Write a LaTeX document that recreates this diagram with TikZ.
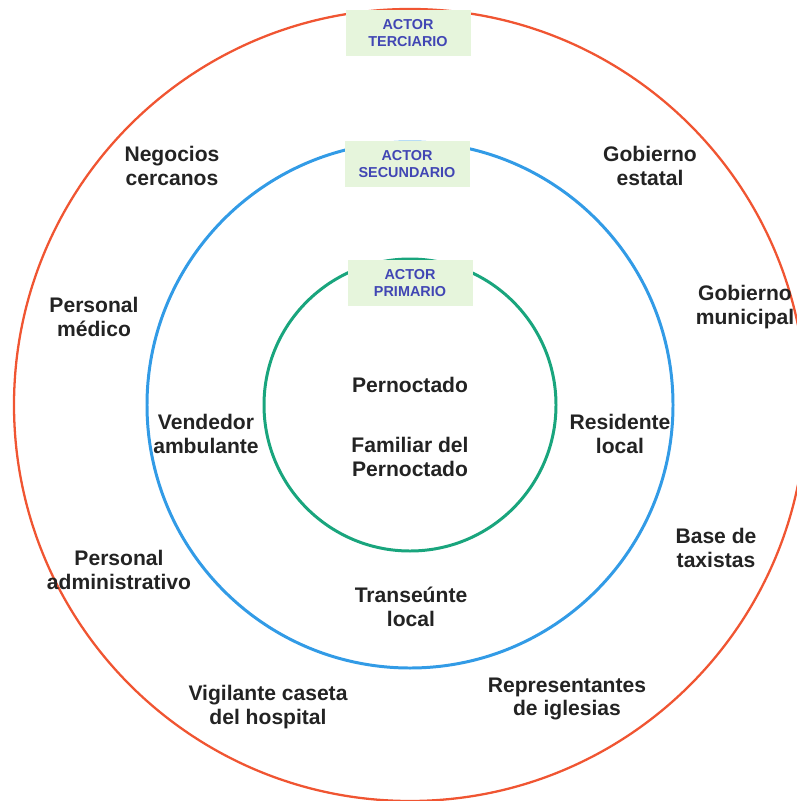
\documentclass[tikz,border=0pt]{standalone}
\usepackage{fontspec}
\setmainfont{Liberation Sans}
\usepackage{tikz}
\usetikzlibrary{positioning}

\definecolor{rojoext}{RGB}{240,85,50}
\definecolor{azulmed}{RGB}{50,155,230}
\definecolor{verdeint}{RGB}{25,165,125}
\definecolor{cajaverde}{RGB}{230,245,220}
\definecolor{textoazul}{RGB}{65,70,180}
\definecolor{textonegro}{RGB}{35,35,35}

\begin{document}
\begin{tikzpicture}[x=0.02cm,y=-0.02cm,
    actor/.style={text=textonegro,font=\fontsize{12}{13.6}\selectfont\bfseries,
                  align=center,inner sep=0pt},
    nivel/.style={fill=cajaverde,text=textoazul,
                  font=\fontsize{8.2}{9.6}\selectfont\bfseries,align=center,
                  minimum width=125*0.02cm,minimum height=46*0.02cm,inner sep=0pt},
    anillo/.style={line width=1.7pt}]
  \useasboundingbox (0,0) rectangle (796,801);
  \coordinate (centro) at (410,405);

  % anillos
  \draw[anillo,rojoext,line width=1.3pt] (centro) circle[radius=396];
  \draw[anillo,azulmed] (centro) circle[radius=263];
  \draw[anillo,verdeint] (centro) circle[radius=146];

  % etiquetas de nivel
  \node[nivel] (terciario) at (408,33) {ACTOR\\TERCIARIO};
  \node[nivel] (secundario) at (407,164) {ACTOR\\SECUNDARIO};
  \node[nivel] (primario) at (410,283) {ACTOR\\PRIMARIO};

  % actor primario
  \node[actor] (pernoctado) at (410,385) {Pernoctado};
  \node[actor] (familiar) at (410,457) {Familiar del\\Pernoctado};

  % actor secundario
  \node[actor] (vendedor) at (206,434) {Vendedor\\ambulante};
  \node[actor] (residente) at (620,434) {Residente\\local};
  \node[actor] (transeunte) at (411,607) {Transeúnte\\local};

  % actor terciario
  \node[actor] (negocios) at (172,166) {Negocios\\cercanos};
  \node[actor] (estatal) at (650,166) {Gobierno\\estatal};
  \node[actor] (medico) at (94,317) {Personal\\médico};
  \node[actor] (municipal) at (745,307) {Gobierno\\municipal};
  \node[actor] (administrativo) at (119,570) {Personal\\administrativo};
  \node[actor] (taxistas) at (716,548) {Base de\\taxistas};
  \node[actor] (vigilante) at (268,707) {Vigilante caseta\\del hospital};
  \node[actor] (iglesias) at (567,699) {Representantes\\de iglesias};
\end{tikzpicture}
\end{document}
